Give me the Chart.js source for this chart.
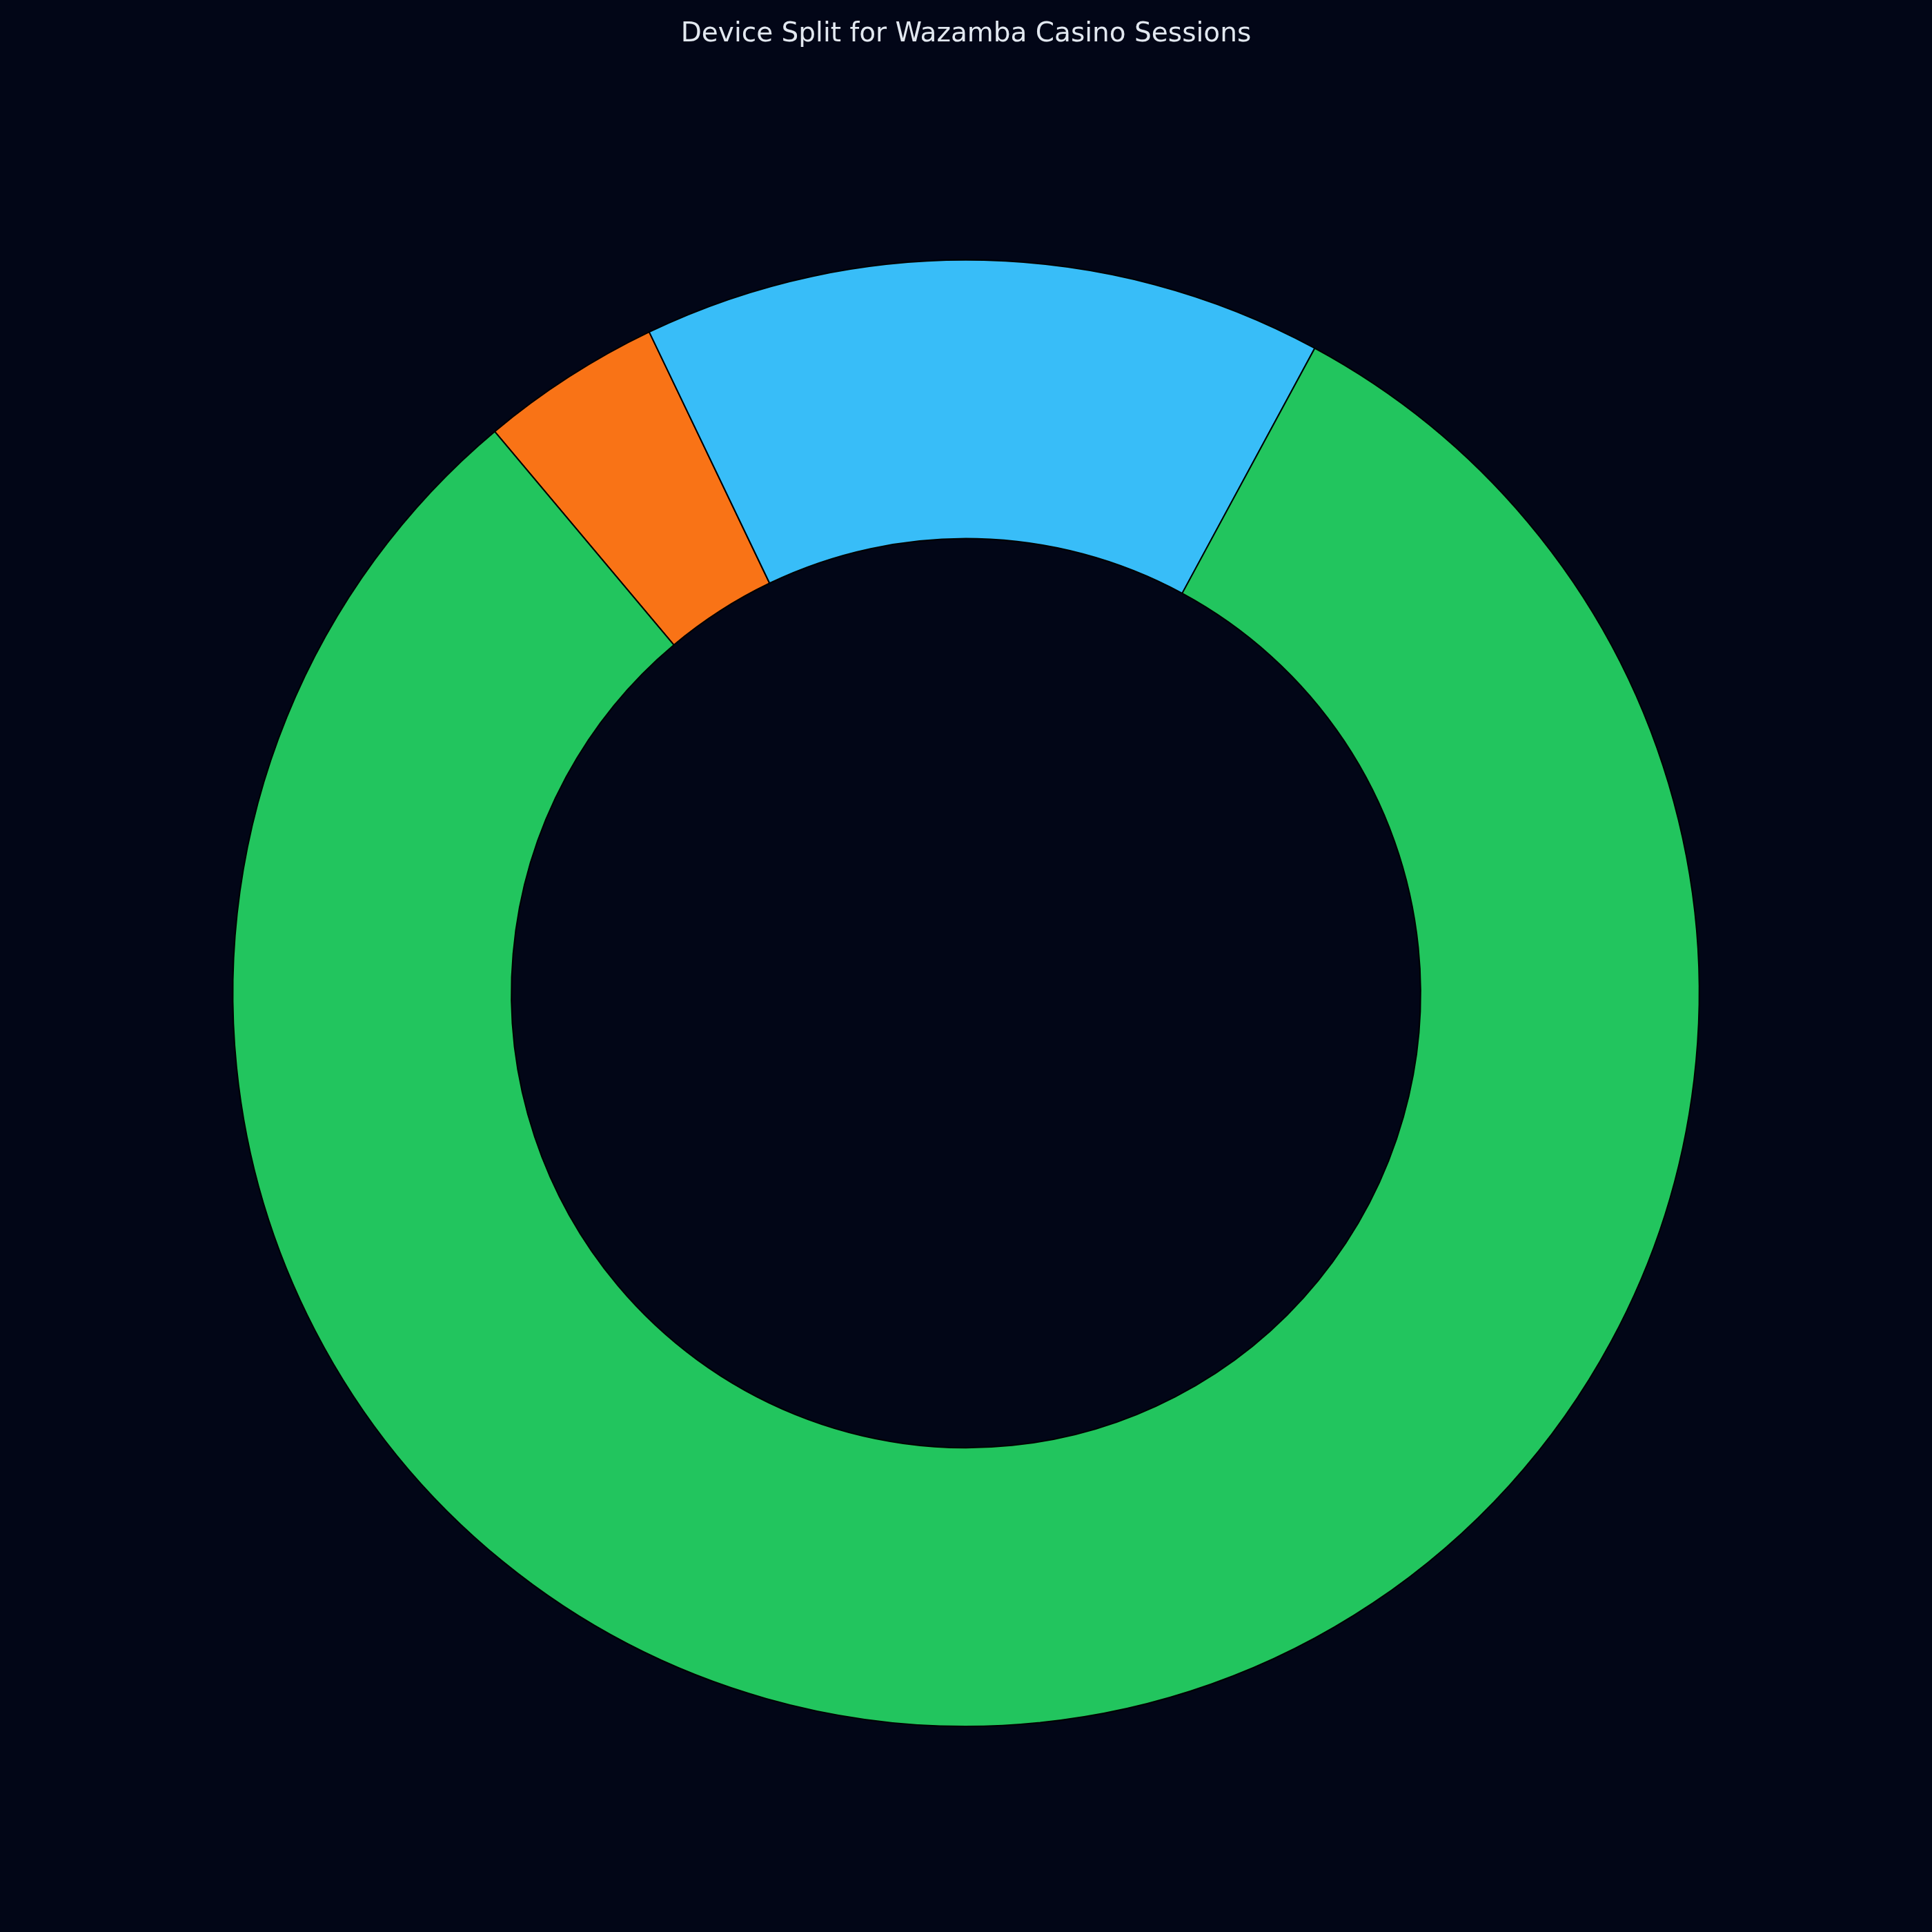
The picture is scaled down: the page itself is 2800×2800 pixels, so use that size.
<!DOCTYPE html>
<html>
<head>
<meta charset="utf-8">
<script src="https://cdn.jsdelivr.net/npm/chart.js@4.4.1/dist/chart.umd.min.js"></script>
<style>
  html, body { margin: 0; padding: 0; background: #020617; }
  #wrap { width: 2800px; height: 2800px; position: relative; }
</style>
</head>
<body>
<div id="wrap"><canvas id="c"></canvas></div>
<script>
// Data (matplotlib order, counter-clockwise)
const categories = ["Mobile", "Desktop", "Tablet"];
const shares = [81, 15, 4];
const sliceColors = ["#22c55e", "#38bdf8", "#f97316"];
const chartTitle = "Device Split for Wazamba Casino Sessions";

// Chart.js draws clockwise, so reverse to keep the same visual order
const labelsCW = categories.slice().reverse();
const valuesCW = shares.slice().reverse();
const colorsCW = sliceColors.slice().reverse();

new Chart(document.getElementById('c'), {
  type: 'doughnut',
  data: {
    labels: labelsCW,
    datasets: [{
      data: valuesCW,
      backgroundColor: colorsCW,
      borderColor: '#000000',
      borderWidth: 2,
      hoverOffset: 0,
      hoverBorderWidth: 2
    }]
  },
  options: {
    responsive: true,
    maintainAspectRatio: false,
    animation: false,
    devicePixelRatio: 1,
    cutout: '62%',
    rotation: -40,
    layout: { padding: { top: 0, bottom: 297, left: 0, right: 0 } },
    plugins: {
      legend: { display: false },
      tooltip: { enabled: false },
      title: {
        display: true,
        text: chartTitle,
        color: '#e2e8f0',
        font: { family: 'DejaVu Sans', size: 39, weight: 'normal', lineHeight: 1.2 },
        padding: { top: 26, bottom: 303 }
      }
    }
  }
});
</script>
</body>
</html>
